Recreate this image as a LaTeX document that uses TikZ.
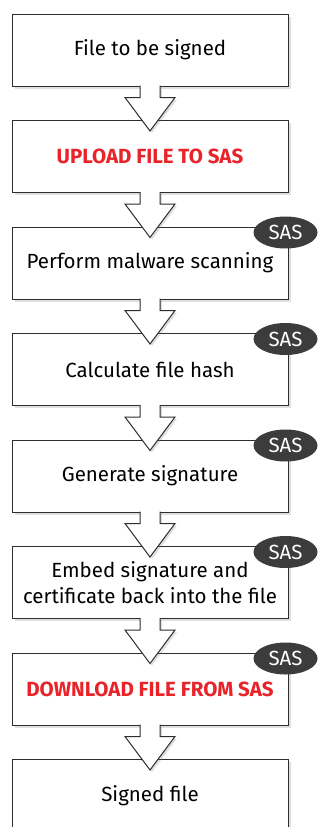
\documentclass[tikz,border=0pt]{standalone}
\usepackage{fontspec}
\setmainfont{Fira Sans}
\usepackage{tikz, xcolor}
\usetikzlibrary{calc, shadows, shapes.geometric}
\definecolor{rouge}{RGB}{232, 35, 42}
\definecolor{gris}{RGB}{60, 60, 60}
\definecolor{trait}{RGB}{45, 45, 45}

% Flèche épaisse entre deux boîtes
\newcommand*\fleche[2]{
    \draw[trait, line width=1pt, fill=white, drop shadow={shadow xshift=2pt, shadow yshift=-2pt, opacity=0.25}]
        ($(#1.south)+(-10,1)$) -- ($(#1.south)+(-10,-11)$) -- ($(#1.south)+(-25,-11)$)
        -- ($(#2.north)+(0,-11)$) -- ($(#1.south)+(25,-11)$) -- ($(#1.south)+(10,-11)$)
        -- ($(#1.south)+(10,1)$) ;}

\tikzset{
    etape/.style={draw=trait, line width=1pt, fill=white, rectangle, minimum width=276pt,
        minimum height=72pt, align=center, inner sep=0pt,
        font=\fontsize{20.5}{26}\selectfont,
        drop shadow={shadow xshift=2.5pt, shadow yshift=-2.5pt, opacity=0.25}},
    rougetxt/.style={text=rouge, font=\fontsize{20.5}{26}\selectfont\bfseries},
    sas/.style={ellipse, fill=gris, text=white, minimum width=64pt, minimum height=32pt,
        inner sep=0pt, font=\fontsize{20.5}{22}\selectfont},
}

\begin{document}
\begin{tikzpicture}[x=1pt, y=1pt]
    \useasboundingbox (0,0) rectangle (320,-827);

    % Boîtes
    \node[etape] (b1) at (150, -50) {File to be signed};
    \node[etape, rougetxt] (b2) at (150, -156.5) {UPLOAD FILE TO SAS};
    \node[etape] (b3) at (150, -263) {Perform malware scanning};
    \node[etape] (b4) at (150, -369.5) {Calculate file hash};
    \node[etape] (b5) at (150, -476) {Generate signature};
    \node[etape] (b6) at (150, -582.5) {Embed signature and\\certificate back into the file};
    \node[etape, rougetxt] (b7) at (150, -689) {DOWNLOAD FILE FROM SAS};
    \node[etape] (b8) at (150, -795.5) {Signed file};

    % Flèches
    \fleche{b1}{b2}
    \fleche{b2}{b3}
    \fleche{b3}{b4}
    \fleche{b4}{b5}
    \fleche{b5}{b6}
    \fleche{b6}{b7}
    \fleche{b7}{b8}

    % Étiquettes SAS
    \foreach \b in {b3, b4, b5, b6, b7}
        \node[sas] (sas-\b) at ($(\b.north east)+(-3,-6)$) {SAS};
\end{tikzpicture}
\end{document}
